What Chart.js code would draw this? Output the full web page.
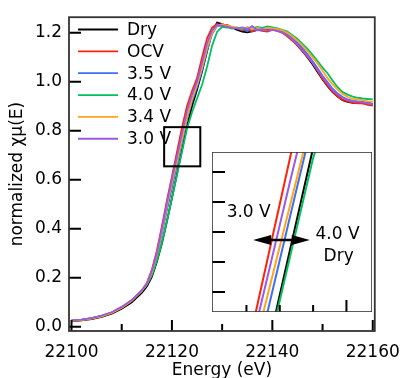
<!DOCTYPE html>
<html>
<head>
<meta charset="utf-8">
<script src="https://cdn.jsdelivr.net/npm/chart.js@4.4.1/dist/chart.umd.min.js"></script>
<style>
  body { margin: 0; background: #fff; }
  #wrap { position: relative; width: 411px; height: 378px; }
  canvas { display: block; }
  #inset { position: absolute; left: 212px; top: 152px; background: #fff; }
</style>
</head>
<body>
<div id="wrap">
  <canvas id="canvas" width="411" height="378"></canvas>
  <canvas id="inset" width="160" height="160"></canvas>
</div>
<script>
// energia (eV)
let energia = [22100, 22102, 22104, 22106, 22108, 22110, 22112, 22114,
  22115, 22116, 22117, 22118, 22119, 22120, 22121, 22122, 22123, 22124, 22125, 22126, 22127, 22128, 22129,
  22130, 22131, 22132, 22133, 22134, 22135, 22136, 22137, 22138, 22139, 22140, 22141, 22142,
  22143, 22144, 22145, 22146, 22147, 22148, 22149, 22150, 22151, 22152, 22153, 22154, 22155, 22156, 22157, 22158, 22159, 22160];

let dry = [0.022, 0.026, 0.031, 0.040, 0.053, 0.073, 0.100, 0.138,
  0.164, 0.203, 0.265, 0.340, 0.430, 0.525, 0.623, 0.721, 0.819, 0.900, 0.968, 1.042, 1.125, 1.205, 1.242,
  1.236, 1.228, 1.222, 1.212, 1.205, 1.202, 1.206, 1.212, 1.215, 1.214, 1.218, 1.212, 1.205,
  1.190, 1.172, 1.150, 1.125, 1.100, 1.072, 1.040, 1.010, 0.982, 0.958, 0.940, 0.925, 0.918, 0.914, 0.915, 0.912, 0.913, 0.910];

let ocv = [0.025, 0.028, 0.034, 0.043, 0.057, 0.078, 0.107, 0.148,
  0.178, 0.232, 0.310, 0.410, 0.515, 0.613, 0.713, 0.813, 0.900, 0.962, 1.015, 1.100, 1.178, 1.222, 1.236,
  1.228, 1.232, 1.222, 1.218, 1.210, 1.212, 1.206, 1.212, 1.208, 1.205, 1.212, 1.208, 1.200,
  1.185, 1.168, 1.148, 1.125, 1.102, 1.078, 1.045, 1.012, 0.985, 0.960, 0.940, 0.927, 0.920, 0.915, 0.912, 0.913, 0.906, 0.903];

let v35 = [0.025, 0.028, 0.035, 0.044, 0.058, 0.080, 0.108, 0.147,
  0.172, 0.218, 0.288, 0.380, 0.475, 0.567, 0.660, 0.754, 0.847, 0.920, 0.978, 1.048, 1.128, 1.195, 1.228,
  1.232, 1.226, 1.222, 1.218, 1.214, 1.210, 1.215, 1.210, 1.212, 1.218, 1.214, 1.210, 1.205,
  1.195, 1.180, 1.160, 1.138, 1.112, 1.085, 1.055, 1.025, 0.998, 0.972, 0.952, 0.938, 0.928, 0.922, 0.920, 0.918, 0.914, 0.908];

let v40 = [0.025, 0.029, 0.035, 0.044, 0.058, 0.080, 0.108, 0.147,
  0.172, 0.210, 0.268, 0.342, 0.430, 0.524, 0.619, 0.714, 0.809, 0.875, 0.932, 0.988, 1.062, 1.148, 1.205,
  1.225, 1.222, 1.218, 1.222, 1.215, 1.222, 1.218, 1.224, 1.220, 1.226, 1.222, 1.218, 1.212,
  1.205, 1.190, 1.175, 1.155, 1.135, 1.110, 1.085, 1.058, 1.035, 1.005, 0.978, 0.958, 0.948, 0.940, 0.935, 0.932, 0.930, 0.928];

let v34 = [0.024, 0.027, 0.033, 0.042, 0.056, 0.078, 0.106, 0.146,
  0.174, 0.222, 0.295, 0.390, 0.492, 0.587, 0.676, 0.765, 0.854, 0.930, 0.988, 1.058, 1.138, 1.200, 1.230,
  1.235, 1.228, 1.225, 1.220, 1.218, 1.222, 1.216, 1.220, 1.215, 1.220, 1.218, 1.215, 1.210,
  1.200, 1.185, 1.168, 1.148, 1.125, 1.100, 1.075, 1.045, 1.015, 0.990, 0.968, 0.950, 0.938, 0.930, 0.928, 0.925, 0.920, 0.918];

let v30 = [0.026, 0.029, 0.035, 0.045, 0.059, 0.081, 0.109, 0.149,
  0.176, 0.228, 0.302, 0.400, 0.505, 0.602, 0.695, 0.789, 0.880, 0.948, 1.002, 1.078, 1.158, 1.210, 1.232,
  1.230, 1.225, 1.220, 1.218, 1.222, 1.215, 1.228, 1.212, 1.215, 1.210, 1.212, 1.208, 1.202,
  1.190, 1.172, 1.152, 1.130, 1.105, 1.078, 1.048, 1.020, 0.992, 0.966, 0.948, 0.935, 0.925, 0.920, 0.918, 0.916, 0.912, 0.910];

let rotulos = ['Dry', 'OCV', '3.5 V', '4.0 V', '3.4 V', '3.0 V'];
let valores = [dry, ocv, v35, v40, v34, v30];
let cores = ['#000000', '#ff2208', '#3a6ff6', '#00c060', '#ffa41c', '#9a5ae6'];

// eixos
let xTicks = [22100, 22110, 22120, 22130, 22140, 22150, 22160];
let xRotulados = [22100, 22120, 22140, 22160];
let yTicks = [0, 0.2, 0.4, 0.6, 0.8, 1.0, 1.2];

// inset (zoom)
let insetX = [22118.45, 22125.65];
let insetY = [0.655, 0.815];
let insetXTicks = [22120, 22121.5, 22123, 22124.5];
let insetXMaior = [22124.5];
let insetYTicks = [0.675, 0.705, 0.735, 0.765, 0.795];

let fonte = 'DejaVu Sans, Lucida Grande, sans-serif';

function montaDatasets(largura) {
  let ds = [];
  for (let i = 0; i < rotulos.length; i++) {
    let pontos = [];
    for (let k = 0; k < energia.length; k++) {
      pontos.push({x: energia[k], y: valores[i][k]});
    }
    ds.push({
      label: rotulos[i],
      data: pontos,
      borderColor: cores[i],
      backgroundColor: cores[i],
      borderWidth: largura,
      pointRadius: 0,
      fill: false,
      order: rotulos.length - i
    });
  }
  return ds;
}

// moldura + ticks para dentro
let moldura = {
  id: 'moldura',
  afterDatasetsDraw(chart, args, opts) {
    let ctx = chart.ctx;
    let a = chart.chartArea;
    let x = chart.scales.x, y = chart.scales.y;
    ctx.save();
    ctx.strokeStyle = '#000';
    ctx.lineWidth = 2;
    ctx.beginPath();
    x.ticks.forEach(t => {
      let px = x.getPixelForValue(t.value);
      let len = opts.maiorX.includes(t.value) ? opts.longoX : opts.curtoX;
      ctx.moveTo(px, a.bottom);
      ctx.lineTo(px, a.bottom - len);
    });
    y.ticks.forEach(t => {
      let py = y.getPixelForValue(t.value);
      ctx.moveTo(a.left, py);
      ctx.lineTo(a.left + opts.longoY, py);
    });
    ctx.stroke();
    if (opts.caixa) {
      let x1 = x.getPixelForValue(insetX[0]), x2 = x.getPixelForValue(insetX[1]);
      let y1 = y.getPixelForValue(insetY[1]), y2 = y.getPixelForValue(insetY[0]);
      ctx.lineWidth = 2;
      ctx.strokeRect(x1, y1, x2 - x1, y2 - y1);
    }
    ctx.strokeStyle = '#333';
    ctx.lineWidth = opts.borda;
    ctx.strokeRect(a.left, a.top, a.right - a.left, a.bottom - a.top);
    ctx.restore();
  }
};

let legenda = {
  id: 'legenda',
  afterDraw(chart) {
    let ctx = chart.ctx;
    let a = chart.chartArea;
    ctx.save();
    ctx.font = '17px ' + fonte;
    ctx.textBaseline = 'middle';
    ctx.textAlign = 'left';
    chart.data.datasets.forEach((ds, i) => {
      let yy = a.top + 12.3 + i * 21.85;
      ctx.strokeStyle = ds.borderColor;
      ctx.lineWidth = 1.8;
      ctx.beginPath();
      ctx.moveTo(a.left + 9, yy);
      ctx.lineTo(a.left + 49, yy);
      ctx.stroke();
      ctx.fillStyle = '#000';
      ctx.fillText(ds.label, a.left + 58, yy + 1);
    });
    ctx.restore();
  }
};

let anotacoes = {
  id: 'anotacoes',
  afterDraw(chart) {
    let ctx = chart.ctx;
    let x = chart.scales.x, y = chart.scales.y;
    let x1 = x.getPixelForValue(22120.3), x2 = x.getPixelForValue(22122.85);
    let yy = y.getPixelForValue(0.727);
    ctx.save();
    ctx.strokeStyle = '#000';
    ctx.fillStyle = '#000';
    ctx.lineWidth = 2.5;
    ctx.beginPath();
    ctx.moveTo(x1 + 10, yy);
    ctx.lineTo(x2 - 10, yy);
    ctx.stroke();
    ctx.beginPath();
    ctx.moveTo(x1, yy); ctx.lineTo(x1 + 18, yy - 5); ctx.lineTo(x1 + 18, yy + 5); ctx.closePath();
    ctx.moveTo(x2, yy); ctx.lineTo(x2 - 18, yy - 5); ctx.lineTo(x2 - 18, yy + 5); ctx.closePath();
    ctx.fill();
    ctx.font = '17px ' + fonte;
    ctx.textAlign = 'center';
    ctx.textBaseline = 'middle';
    ctx.fillText('3.0 V', x.getPixelForValue(22120.1), y.getPixelForValue(0.754));
    ctx.fillText('4.0 V', x.getPixelForValue(22124.1), y.getPixelForValue(0.732));
    ctx.fillText('Dry', x.getPixelForValue(22124.15), y.getPixelForValue(0.710));
    ctx.restore();
  }
};

let configuracao = {
  type: 'line',
  data: { datasets: montaDatasets(1.8) },
  options: {
    responsive: false,
    animation: false,
    layout: { padding: { top: 16, right: 29, left: 0, bottom: 0 } },
    plugins: {
      legend: { display: false },
      tooltip: { enabled: false },
      moldura: { maiorX: xRotulados, longoX: 11, curtoX: 7, longoY: 12, caixa: true, borda: 1.8 }
    },
    scales: {
      x: {
        type: 'linear',
        min: 22099.5,
        max: 22160.4,
        afterBuildTicks: s => { s.ticks = xTicks.map(v => ({value: v})); },
        afterFit: s => { s.height = 47; },
        grid: { display: false, drawTicks: false },
        border: { display: false },
        ticks: {
          autoSkip: false, maxRotation: 0, padding: 11, color: '#000',
          font: { family: fonte, size: 17 },
          callback: v => xRotulados.includes(v) ? String(v) : ''
        },
        title: {
          display: true, text: 'Energy (eV)', color: '#000',
          font: { family: fonte, size: 17 }, padding: { top: 0, bottom: -3 }
        }
      },
      y: {
        type: 'linear',
        min: -0.0175,
        max: 1.264,
        afterBuildTicks: s => { s.ticks = yTicks.map(v => ({value: v})); },
        afterFit: s => { s.width = 69; },
        grid: { display: false, drawTicks: false },
        border: { display: false },
        ticks: {
          padding: 7, color: '#000',
          font: { family: fonte, size: 17 },
          callback: v => Number(v).toFixed(1)
        },
        title: {
          display: true, text: 'normalized χμ(E)', color: '#000',
          font: { family: fonte, size: 17 }, padding: { top: 7, bottom: 0 }
        }
      }
    }
  },
  plugins: [moldura, legenda]
};

let chart = new Chart(document.getElementById('canvas'), configuracao);

let configuracao2 = {
  type: 'line',
  data: { datasets: montaDatasets(2) },
  options: {
    responsive: false,
    animation: false,
    layout: { padding: 0 },
    plugins: {
      legend: { display: false },
      tooltip: { enabled: false },
      moldura: { maiorX: insetXMaior, longoX: 12, curtoX: 7, longoY: 13, caixa: false, borda: 1.6 }
    },
    scales: {
      x: {
        type: 'linear', min: insetX[0], max: insetX[1],
        afterBuildTicks: s => { s.ticks = insetXTicks.map(v => ({value: v})); },
        afterFit: s => { s.height = 0; },
        grid: { display: false, drawTicks: false },
        border: { display: false },
        ticks: { display: false }
      },
      y: {
        type: 'linear', min: insetY[0], max: insetY[1],
        afterBuildTicks: s => { s.ticks = insetYTicks.map(v => ({value: v})); },
        afterFit: s => { s.width = 0; },
        grid: { display: false, drawTicks: false },
        border: { display: false },
        ticks: { display: false }
      }
    }
  },
  plugins: [moldura, anotacoes]
};

let chart2 = new Chart(document.getElementById('inset'), configuracao2);
</script>
</body>
</html>
